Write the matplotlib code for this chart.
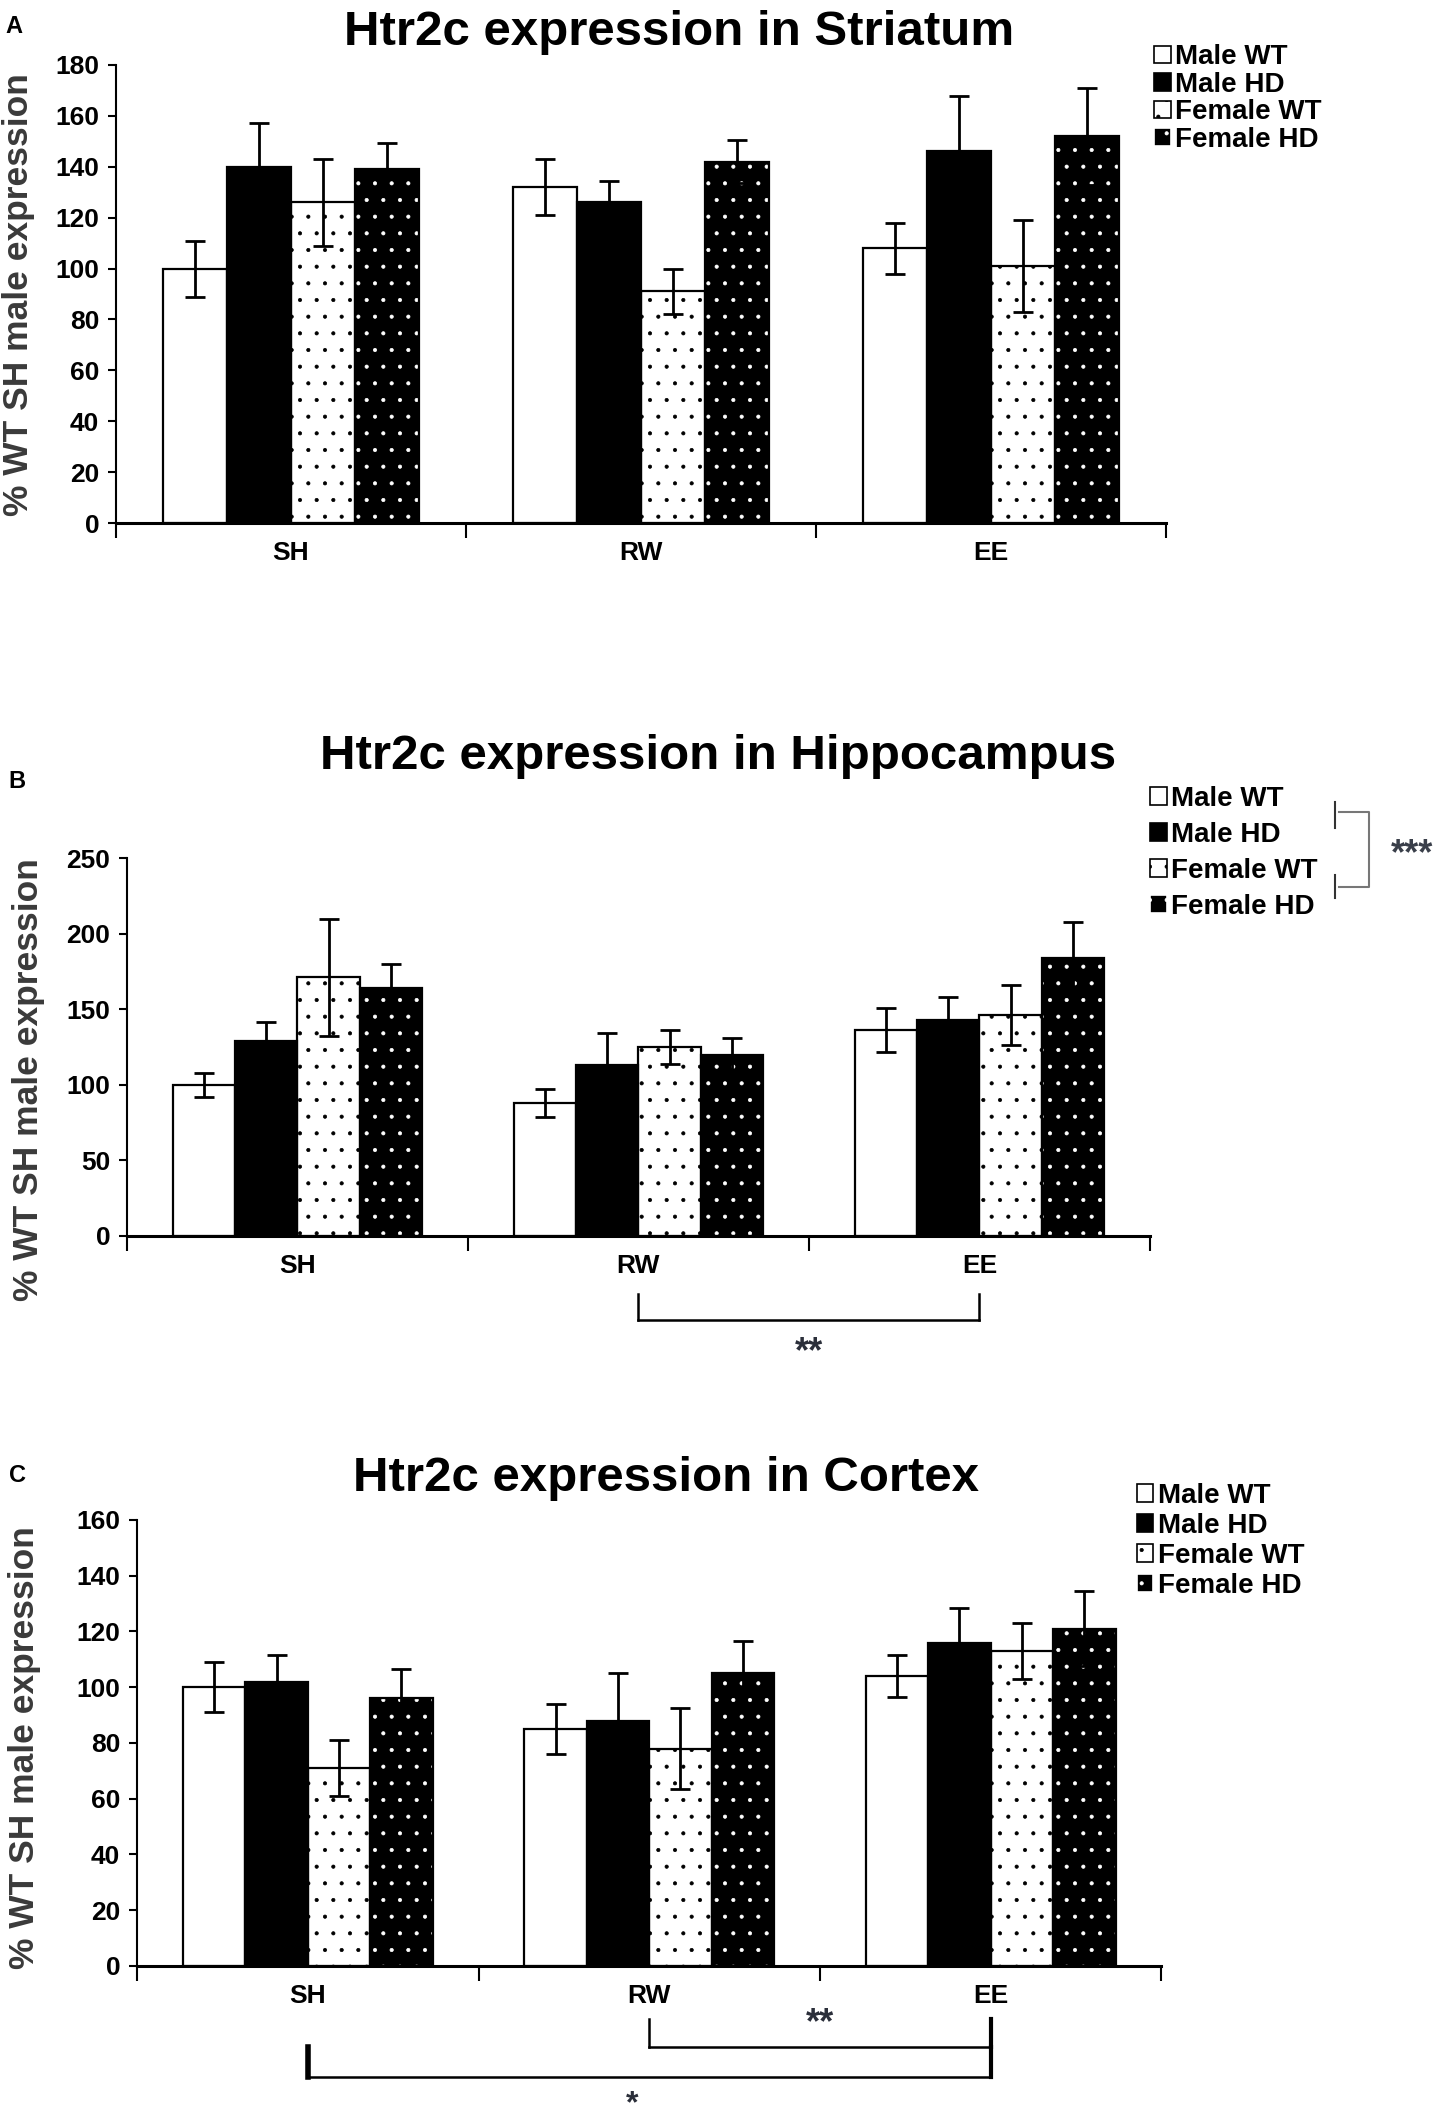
import numpy as np
import matplotlib
matplotlib.use("Agg")
import matplotlib.pyplot as plt
from matplotlib.patches import Patch
from matplotlib.lines import Line2D
import matplotlib.transforms as mtransforms

plt.rcParams['font.family'] = ['Liberation Sans', 'DejaVu Sans']
plt.rcParams['hatch.linewidth'] = 0.5

## categories and groups
categories = ['SH', 'RW', 'EE']
groups = ['Male WT', 'Male HD', 'Female WT', 'Female HD']

## rows follow groups, columns follow categories
striatum_mean = [[100, 132, 108], [140, 126, 146], [126, 91, 101], [139, 142, 152]]
striatum_err = [[11, 11, 10], [17, 8.5, 22], [17, 9, 18], [10.5, 8.5, 19]]

hippo_mean = [[100, 88, 136], [129, 113, 143], [171, 125, 146], [164, 120, 184]]
hippo_err = [[8, 9, 14.5], [12.5, 21, 15], [39, 11, 20], [16, 11, 24]]

cortex_mean = [[100, 85, 104], [102, 88, 116], [71, 78, 113], [96, 105, 121]]
cortex_err = [[9, 9, 7.5], [9.5, 17, 12.5], [10, 14.5, 10], [10.5, 11.5, 13.5]]

titles = ['Htr2c expression in Striatum',
          'Htr2c expression in Hippocampus',
          'Htr2c expression in Cortex']
ylims = [180, 250, 160]
ysteps = [20, 50, 20]
ylabel = '% WT SH male expression'

## face colour, hatch colour, hatch for each group
faces = ['white', 'black', 'white', 'black']
hatch_cols = ['black', 'black', 'black', 'white']
hatches = [None, None, '.', '.']

star_col = '#2b2f3a'


def draw_panel(ax, means, errs, ymax, ystep):
    x = np.arange(len(categories))
    w = 0.183
    for i in range(len(groups)):
        pos = x + (i - 1.5) * w
        ax.bar(pos, means[i], w, color=faces[i], edgecolor=hatch_cols[i],
               hatch=hatches[i], linewidth=0, zorder=2)
        ax.bar(pos, means[i], w, fill=False, edgecolor='black',
               linewidth=1.6, zorder=3)
        ax.errorbar(pos, means[i], yerr=errs[i], fmt='none', ecolor='black',
                    elinewidth=2, capsize=7, capthick=2, zorder=4)

    ax.set_xlim(-0.5, len(categories) - 0.5)
    ax.set_ylim(0, ymax)
    ax.set_yticks(np.arange(0, ymax + 1, ystep))
    ax.set_xticks(np.arange(-0.5, len(categories), 1.0))
    ax.set_xticklabels([])
    ax.set_xticks(x, minor=True)
    ax.set_xticklabels(categories, minor=True, fontsize=19, fontweight='bold')
    ax.tick_params(axis='x', which='major', direction='out', length=11, width=1.5)
    ax.tick_params(axis='x', which='minor', length=0, pad=13)
    ax.tick_params(axis='y', direction='out', length=6, width=1.5, pad=6)
    for lab in ax.get_yticklabels():
        lab.set_fontsize(19)
        lab.set_fontweight('bold')
    for side in ['top', 'right']:
        ax.spines[side].set_visible(False)
    ax.spines['left'].set_linewidth(1.5)
    ax.spines['bottom'].set_linewidth(2.2)


def bracket(ax, x0, x1, y_top0, y_top1, y_bar, lw=1.8, lw0=None, lw1=None):
    tr = mtransforms.blended_transform_factory(ax.transData, ax.transAxes)
    ax.add_line(Line2D([x0, x0], [y_top0, y_bar], color='black',
                       lw=lw0 or lw, transform=tr, clip_on=False))
    ax.add_line(Line2D([x1, x1], [y_top1, y_bar], color='black',
                       lw=lw1 or lw, transform=tr, clip_on=False))
    ax.add_line(Line2D([x0, x1], [y_bar, y_bar], color='black', lw=lw,
                       transform=tr, clip_on=False))


def main():
    fig = plt.figure(figsize=(14.5, 21.16), dpi=100)

    rects = [[0.080, 0.7528, 0.724, 0.2165],
             [0.0876, 0.4159, 0.7054, 0.1786],
             [0.0945, 0.0709, 0.7065, 0.2108]]
    data = [(striatum_mean, striatum_err), (hippo_mean, hippo_err),
            (cortex_mean, cortex_err)]
    title_xy = [(0.468, 0.9845), (0.495, 0.6425), (0.459, 0.3015)]
    letter_xy = [(0.004, 0.993), (0.006, 0.636), (0.006, 0.308)]
    ylab_xy = [(0.013, 0.861), (0.020, 0.490), (0.017, 0.174)]
    leg_xy = [(0.796, 0.979), (0.793, 0.6285), (0.784, 0.2992)]
    leg_space = [0.05, 0.36, 0.14]

    handles = [Patch(facecolor=faces[i], edgecolor=('black' if i < 3 else 'white'),
                     hatch=hatches[i], linewidth=1.2) for i in range(len(groups))]

    for k in range(3):
        ax = fig.add_axes(rects[k])
        draw_panel(ax, data[k][0], data[k][1], ylims[k], ysteps[k])
        fig.text(title_xy[k][0], title_xy[k][1], titles[k], ha='center',
                 va='center', fontsize=35.5, fontweight='bold')
        fig.text(letter_xy[k][0], letter_xy[k][1], 'ABC'[k], ha='left',
                 va='top', fontsize=17, fontweight='bold')
        fig.text(ylab_xy[k][0], ylab_xy[k][1], ylabel, rotation=90,
                 ha='center', va='center', fontsize=25.5, fontweight='bold',
                 color='#3a3a3a')
        ax.legend(handles, groups, loc='upper left',
                  bbox_to_anchor=leg_xy[k], bbox_transform=fig.transFigure,
                  frameon=False, handlelength=0.6,
                  handleheight=0.6, handletextpad=0.15,
                  labelspacing=leg_space[k], borderpad=0, borderaxespad=0,
                  prop={'weight': 'bold', 'size': 20})

        tr = mtransforms.blended_transform_factory(ax.transData, ax.transAxes)
        if k == 1:
            bracket(ax, 1, 2, -0.154, -0.154, -0.222)
            ax.text(1.5, -0.31, '**', transform=tr, ha='center', va='center',
                    fontsize=26, fontweight='bold', color=star_col)
            # legend bracket for sex effect
            tf = fig.transFigure
            xs = [1335 / 1450, 1369 / 1450]
            ya, yb = 1 - 812 / 2116, 1 - 887 / 2116
            fig.add_artist(Line2D([xs[0], xs[0]], [1 - 802 / 2116, 1 - 828 / 2116],
                                  color='#333333', lw=1.5, transform=tf))
            fig.add_artist(Line2D([xs[0], xs[0]], [1 - 875 / 2116, 1 - 898 / 2116],
                                  color='#333333', lw=1.5, transform=tf))
            fig.add_artist(Line2D([xs[0] + 0.003, xs[1], xs[1], xs[0] + 0.003],
                                  [ya, ya, yb, yb], color='#777777', lw=1.5,
                                  transform=tf))
            fig.text(1412 / 1450, 1 - 855 / 2116, '***', ha='center', va='center',
                     fontsize=26, fontweight='bold', color='#3a3f4a')
        if k == 2:
            bracket(ax, 1, 2, -0.119, -0.119, -0.182, lw=1.8, lw1=3)
            bracket(ax, 0, 2, -0.182, -0.182, -0.249, lw=1.8, lw0=4, lw1=3)
            ax.text(1.5, -0.13, '**', transform=tr, ha='center', va='center',
                    fontsize=26, fontweight='bold', color=star_col)
            ax.text(0.95, -0.276, '*', transform=tr, ha='center', va='top',
                    fontsize=23, fontweight='bold', color=star_col)

    fig.savefig('out.png', dpi=100, facecolor='white')


if __name__ == "__main__":
    main()
